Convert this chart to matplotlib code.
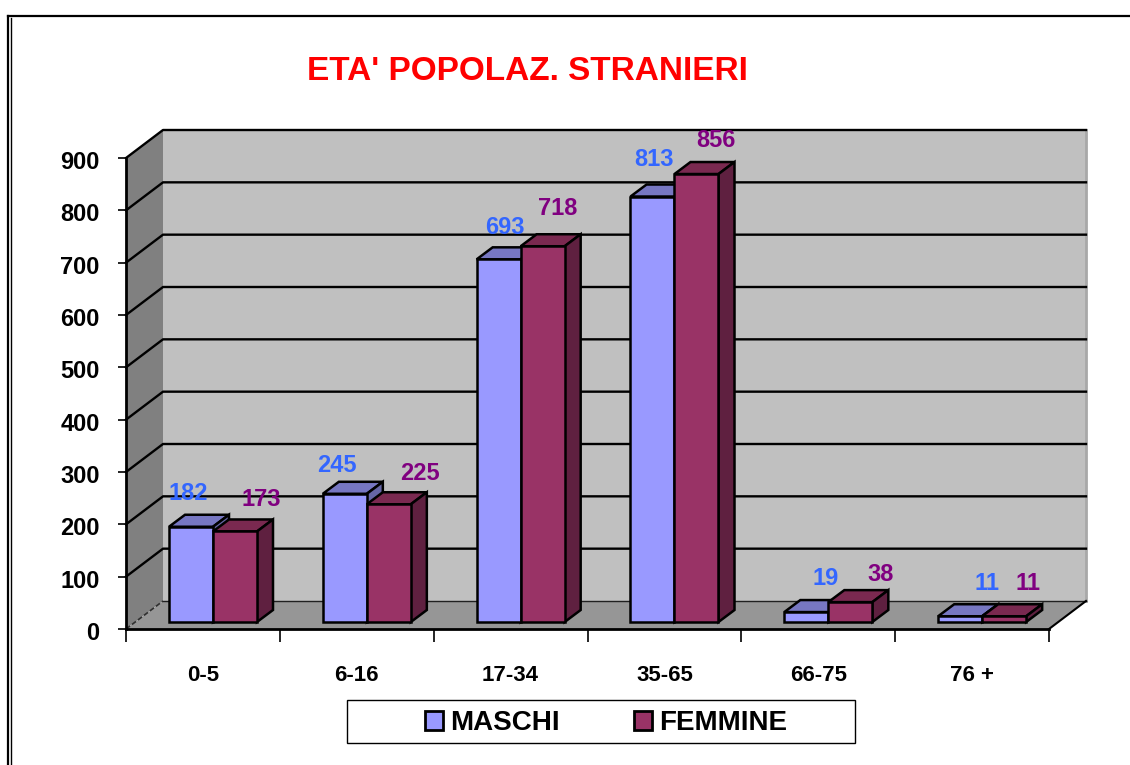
import matplotlib
matplotlib.use('Agg')
import matplotlib.pyplot as plt
from matplotlib.lines import Line2D
from matplotlib.patches import Patch, Polygon, Rectangle
from matplotlib.transforms import ScaledTranslation

plt.rcParams['font.family'] = ['Liberation Sans', 'DejaVu Sans']
plt.rcParams['font.weight'] = 'bold'

categories = ['0-5', '6-16', '17-34', '35-65', '66-75', '76 +']
maschi = [182, 245, 693, 813, 19, 11]
femmine = [173, 225, 718, 856, 38, 11]
y_ticks = [0, 100, 200, 300, 400, 500, 600, 700, 800, 900]

# label nudges in pixels (dx from bar centre, dy above front top)
maschi_dx = [-3, -8, 6, 2, 19, 27]
maschi_dy = [33, 28, 32, 37, 34, 33]
femmine_dx = [26, 31, 15, 19, 30, 24]
femmine_dy = [32, 31, 38, 34, 28, 33]

W, H = 1130, 765
X0, X1 = 126, 1049    # axes left/right in pixels
Y0, Y1 = 629, 158     # pixel rows of value 0 and value 900
fig = plt.figure(figsize=(W / 100, H / 100), dpi=100, facecolor='white')
ax = fig.add_axes([X0 / W, 1 - Y0 / H, (X1 - X0) / W, (Y0 - Y1) / H])
ax.set_xlim(0, 6)
ax.set_ylim(0, 900)
ax.patch.set_visible(False)

PX = 6 / (X1 - X0)         # one pixel in x data units
PY = 900 / (Y0 - Y1)       # one pixel in y data units
DEPTH_X = 37 * PX
DEPTH_Y = 28 * PY


def poly(points, color, z, lw=1.8, edge='black'):
    ax.add_patch(Polygon(points, closed=True, facecolor=color, edgecolor=edge,
                         linewidth=lw, zorder=z, clip_on=False))


def bar3d(left, height, colors, z):
    # front face sits a little in front of the back wall, on the floor
    right = left + 44 * PX
    base = 7 * PY
    top = base + height
    dx, dy = 16 * PX, 12 * PY
    front, top_c, side = colors
    poly([(left, top), (left + dx, top + dy), (right + dx, top + dy), (right, top)], top_c, z)
    poly([(right, base), (right + dx, base + dy), (right + dx, top + dy), (right, top)], side, z)
    poly([(left, base), (right, base), (right, top), (left, top)], front, z)


# walls and floor
poly([(DEPTH_X, DEPTH_Y), (6 + DEPTH_X, DEPTH_Y), (6 + DEPTH_X, 900 + DEPTH_Y), (DEPTH_X, 900 + DEPTH_Y)],
     '#C0C0C0', 1, lw=0)
poly([(0, 0), (DEPTH_X, DEPTH_Y), (DEPTH_X, 900 + DEPTH_Y), (0, 900)], '#808080', 1, lw=0)
poly([(0, 0), (DEPTH_X, DEPTH_Y), (6 + DEPTH_X, DEPTH_Y), (6, 0)], '#969696', 1, lw=0)
ax.plot([6 + DEPTH_X, 6 + DEPTH_X], [DEPTH_Y, 900 + DEPTH_Y], color='#A8A8A8', lw=2, zorder=2, clip_on=False)

# gridlines run along the side wall and across the back wall
for v in y_ticks:
    if v == 0:
        ax.plot([0, DEPTH_X], [0, DEPTH_Y], color='#303030', lw=1.2, ls=(0, (3, 1.5)), zorder=2, clip_on=False)
        ax.plot([DEPTH_X, 6 + DEPTH_X], [DEPTH_Y, DEPTH_Y], color='#202020', lw=1, zorder=2, clip_on=False)
        ax.plot([6, 6 + DEPTH_X], [0, DEPTH_Y], color='black', lw=1.5, zorder=2, clip_on=False)
    else:
        ax.plot([0, DEPTH_X, 6 + DEPTH_X], [v, v + DEPTH_Y, v + DEPTH_Y], color='black', lw=1.7,
                zorder=2, clip_on=False)

MASCHI_COLORS = ('#9999FF', '#7777C2', '#6666A6')
FEMMINE_COLORS = ('#993366', '#7A2950', '#5F2040')

for i, cat in enumerate(categories):
    left = i + 43 * PX
    mid = left + 44 * PX
    bar3d(left, maschi[i], MASCHI_COLORS, 3 + i * 2)
    bar3d(mid, femmine[i], FEMMINE_COLORS, 4 + i * 2)
    ax.text(left + (22 + maschi_dx[i]) * PX, maschi[i] + 7 * PY + maschi_dy[i] * PY, str(maschi[i]),
            color='#3366FF', fontsize=17, ha='center', va='center', zorder=30, clip_on=False)
    ax.text(mid + (22 + femmine_dx[i]) * PX, femmine[i] + 7 * PY + femmine_dy[i] * PY, str(femmine[i]),
            color='#800080', fontsize=17, ha='center', va='center', zorder=30, clip_on=False)

# axes
for name in ['top', 'right']:
    ax.spines[name].set_visible(False)
for name in ['left', 'bottom']:
    ax.spines[name].set_linewidth(2)
    ax.spines[name].set_zorder(40)
ax.set_yticks(y_ticks)
ax.tick_params(axis='y', length=6, width=1.2, pad=13, labelsize=17)
for label in ax.get_yticklabels():
    label.set_transform(label.get_transform() + ScaledTranslation(0, -2 / 100, fig.dpi_scale_trans))
ax.set_xticks(range(7))
ax.set_xticklabels([])
ax.tick_params(axis='x', which='major', length=9, width=1.2)
ax.set_xticks([i + 0.5 for i in range(6)], minor=True)
ax.set_xticklabels(categories, minor=True, fontsize=16)
ax.tick_params(axis='x', which='minor', length=0, pad=26)

fig.text(527 / W, 1 - 71 / H, "ETA' POPOLAZ. STRANIERI", color='#FF0000', fontsize=24,
         ha='center', va='center')

# legend box is much wider than its entries, so it is drawn on its own
fig.add_artist(Rectangle((347 / W, 1 - 743 / H), 508 / W, 43 / H, transform=fig.transFigure,
                         facecolor='white', edgecolor='black', linewidth=1))
handles = [Patch(facecolor='#9999FF', edgecolor='black', linewidth=2, label='MASCHI'),
           Patch(facecolor='#993366', edgecolor='black', linewidth=2, label='FEMMINE')]
fig.legend(handles=handles, ncol=2, loc='center', bbox_to_anchor=(606 / W, 1 - 723 / H),
           fontsize=20, frameon=False, borderpad=0, handlelength=0.65, handleheight=0.65,
           handletextpad=0.25, columnspacing=2.7)

# outer frame of the original picture (double rule, cut off right and bottom)
for xs, ys, lw in [([8, W], [16, 16], 1.6), ([8, 8], [16, H], 1.6), ([11, 11], [18, H], 1)]:
    fig.add_artist(Line2D([x / W for x in xs], [1 - y / H for y in ys], color='black', lw=lw))

fig.savefig('out.png', dpi=100)
